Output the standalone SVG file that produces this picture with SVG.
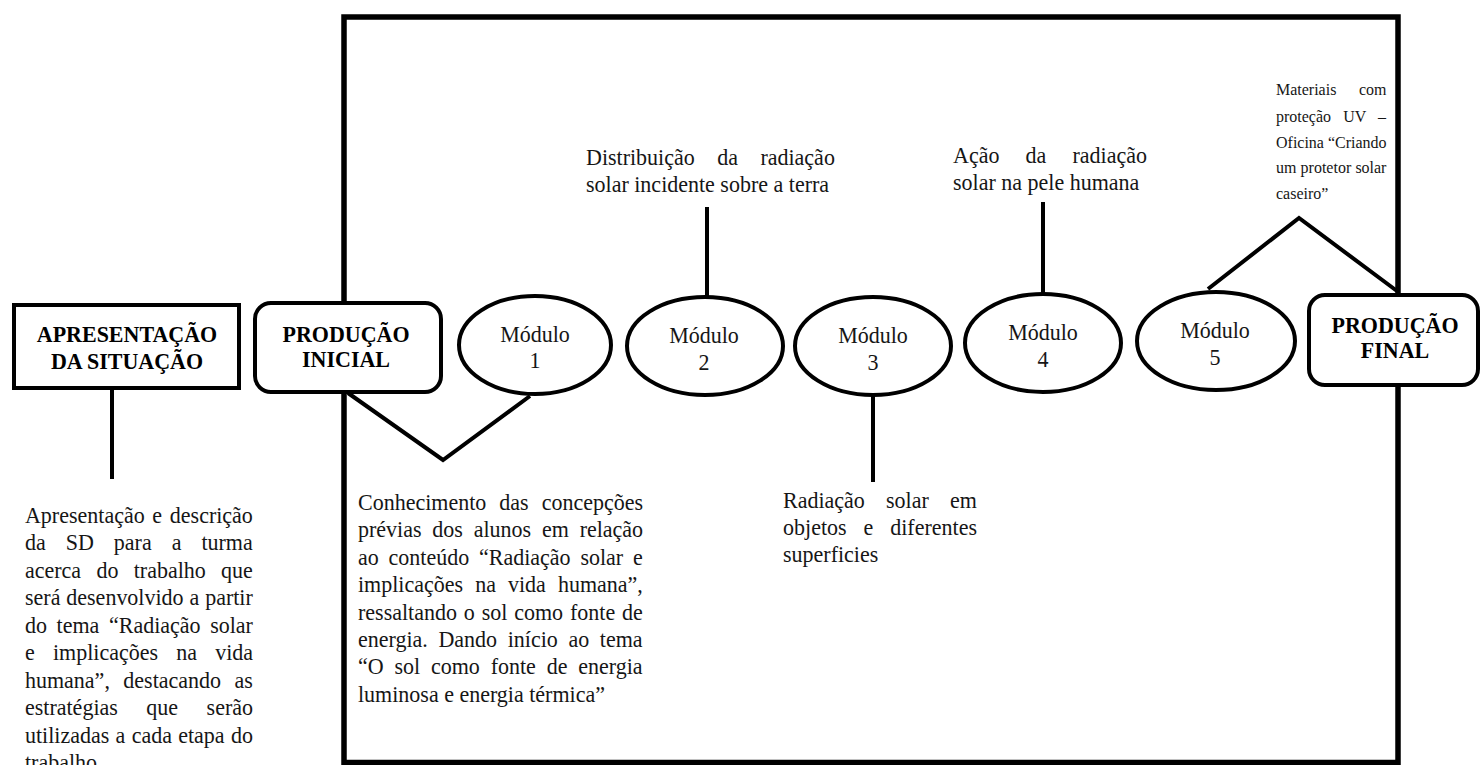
<svg xmlns="http://www.w3.org/2000/svg" width="1480" height="765" viewBox="0 0 1480 765">
<style>
.t{font-family:"Liberation Serif","Times New Roman",serif;font-size:24px;fill:#161616}
.s{font-size:17.45px}
.b{font-weight:bold;text-anchor:middle;fill:#000}
.m{text-anchor:middle}
.ln{stroke:#000;stroke-width:4;fill:none;stroke-linejoin:miter}
.box{fill:#fff;stroke:#000;stroke-width:4}
</style>
<rect x="0" y="0" width="1480" height="765" fill="#fff"/>
<g id="frame">
<rect x="344" y="17" width="1054" height="745.5" fill="none" stroke="#000" stroke-width="5.5"/>
</g>
<g id="connectors">
<line class="ln" x1="112" y1="388" x2="112" y2="479"/>
<polyline class="ln" points="348,393 443,460 530,396"/>
<line class="ln" x1="707" y1="207" x2="707" y2="298"/>
<line class="ln" x1="873" y1="394" x2="873" y2="482"/>
<line class="ln" x1="1043" y1="202" x2="1043" y2="295"/>
<polyline class="ln" points="1208,289 1299,218 1397,291"/>
</g>
<g id="node-apresentacao">
<rect class="box" x="14" y="305" width="225" height="83"/>
<g transform="matrix(0.9167 0 0 1 10.58 0)">
<text class="t b" x="127" y="342">APRESENTAÇÃO</text>
<text class="t b" x="127" y="369">DA SITUAÇÃO</text>
</g>
</g>
<g id="node-producao-inicial">
<rect class="box" x="255" y="303" width="186" height="89" rx="16"/>
<g transform="matrix(0.9167 0 0 1 28.83 0)">
<text class="t b" x="346" y="342">PRODUÇÃO</text>
<text class="t b" x="346" y="367">INICIAL</text>
</g>
</g>
<g id="node-modulo1">
<ellipse class="box" cx="535" cy="345" rx="76" ry="49"/>
<g transform="matrix(0.9167 0 0 1 44.58 0)">
<text class="t m" x="535" y="342">Módulo</text>
<text class="t m" x="535" y="368">1</text>
</g>
</g>
<g id="node-modulo2">
<ellipse class="box" cx="705" cy="346" rx="78" ry="49"/>
<g transform="matrix(0.9167 0 0 1 58.67 0)">
<text class="t m" x="704" y="343">Módulo</text>
<text class="t m" x="704" y="370">2</text>
</g>
</g>
<g id="node-modulo3">
<ellipse class="box" cx="873" cy="346" rx="78" ry="49"/>
<g transform="matrix(0.9167 0 0 1 72.75 0)">
<text class="t m" x="873" y="343">Módulo</text>
<text class="t m" x="873" y="370">3</text>
</g>
</g>
<g id="node-modulo4">
<ellipse class="box" cx="1043" cy="343" rx="78" ry="49"/>
<g transform="matrix(0.9167 0 0 1 86.92 0)">
<text class="t m" x="1043" y="340">Módulo</text>
<text class="t m" x="1043" y="367">4</text>
</g>
</g>
<g id="node-modulo5">
<ellipse class="box" cx="1216" cy="341" rx="79" ry="49"/>
<g transform="matrix(0.9167 0 0 1 101.25 0)">
<text class="t m" x="1215" y="338">Módulo</text>
<text class="t m" x="1215" y="365">5</text>
</g>
</g>
<g id="node-producao-final">
<rect class="box" x="1309" y="295" width="169" height="90" rx="16"/>
<g transform="matrix(0.9167 0 0 1 116.25 0)">
<text class="t b" x="1395" y="333">PRODUÇÃO</text>
<text class="t b" x="1395" y="358">FINAL</text>
</g>
</g>
<g id="text-apresentacao" transform="matrix(0.9167 0 0 1 2.083 0)">
<text class="t" x="25" y="523" word-spacing="2.4">Apresentação e descrição</text>
<text class="t" x="25" y="550.5" word-spacing="15.8">da SD para a turma</text>
<text class="t" x="25" y="578" word-spacing="10.7">acerca do trabalho que</text>
<text class="t" x="25" y="605.5" word-spacing="0.44">será desenvolvido a partir</text>
<text class="t" x="25" y="633" word-spacing="4.5">do tema “Radiação solar</text>
<text class="t" x="25" y="660.5" word-spacing="13.85">e implicações na vida</text>
<text class="t" x="25" y="688" word-spacing="8.7">humana”, destacando as</text>
<text class="t" x="25" y="715.5" word-spacing="25.1">estratégias que serão</text>
<text class="t" x="25" y="743" word-spacing="0.87">utilizadas a cada etapa do</text>
<text class="t" x="25" y="770.5">trabalho</text>
</g>
<g id="text-producao-inicial" transform="matrix(0.9167 0 0 1 29.83 0)">
<text class="t" x="358" y="510" word-spacing="8.2">Conhecimento das concepções</text>
<text class="t" x="358" y="537.4" word-spacing="5.8">prévias dos alunos em relação</text>
<text class="t" x="358" y="564.8" word-spacing="4.7">ao conteúdo “Radiação solar e</text>
<text class="t" x="358" y="592.2" word-spacing="7.2">implicações na vida humana”,</text>
<text class="t" x="358" y="619.6" word-spacing="1.5">ressaltando o sol como fonte de</text>
<text class="t" x="358" y="647" word-spacing="5.6">energia. Dando início ao tema</text>
<text class="t" x="358" y="674.4" word-spacing="5.8">“O sol como fonte de energia</text>
<text class="t" x="358" y="701.8">luminosa e energia térmica”</text>
</g>
<g id="text-modulo2" transform="matrix(0.9167 0 0 1 48.83 0)">
<text class="t" x="586" y="165" word-spacing="18.5">Distribuição da radiação</text>
<text class="t" x="586" y="192">solar incidente sobre a terra</text>
</g>
<g id="text-modulo3" transform="matrix(0.9167 0 0 1 65.25 0)">
<text class="t" x="783" y="508" word-spacing="17.1">Radiação solar em</text>
<text class="t" x="783" y="535" word-spacing="12.5">objetos e diferentes</text>
<text class="t" x="783" y="562">superficies</text>
</g>
<g id="text-modulo4" transform="matrix(0.9167 0 0 1 79.42 0)">
<text class="t" x="953" y="163" word-spacing="22.5">Ação da radiação</text>
<text class="t" x="953" y="190">solar na pele humana</text>
</g>
<g id="text-modulo5" transform="matrix(0.9167 0 0 1 106.33 0)">
<text class="t s" x="1276" y="95" word-spacing="20.3">Materiais com</text>
<text class="t s" x="1276" y="122" word-spacing="8.9">proteção UV –</text>
<text class="t s" x="1276" y="148">Oficina “Criando</text>
<text class="t s" x="1276" y="173" word-spacing="0.2">um protetor solar</text>
<text class="t s" x="1276" y="199">caseiro”</text>
</g>
</svg>
